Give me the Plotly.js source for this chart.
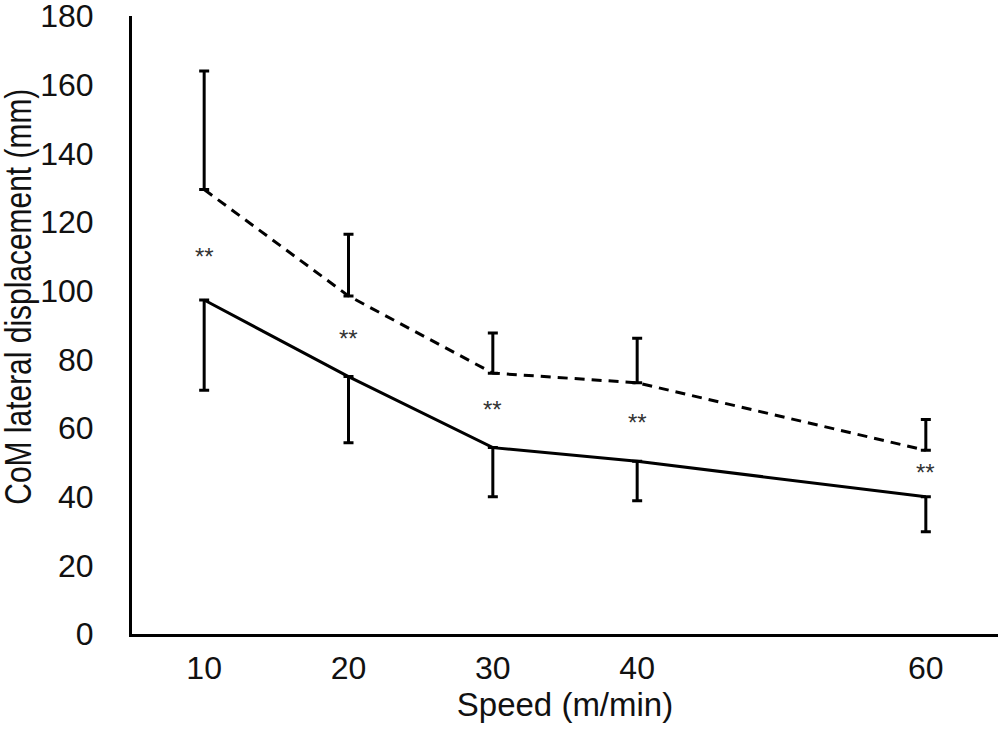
<!DOCTYPE html>
<html>
<head>
<meta charset="utf-8">
<script src="https://cdn.plot.ly/plotly-3.0.1.min.js"></script>
<style>
  html, body { margin: 0; padding: 0; background: #fff; }
  #chart { width: 1000px; height: 729px; }
</style>
</head>
<body>
<div id="chart"></div>
<script>
// speeds (m/min)
const speeds = [10, 20, 30, 40, 60];

// dashed series: mean and upward SD
const dashedMean = [129.5, 98.5, 76, 73.2, 53.5];
const dashedSD = [34.5, 18, 11.7, 13, 9];

// solid series: mean and downward SD
const solidMean = [97.3, 75, 54.3, 50.3, 40];
const solidSD = [26.3, 19.3, 14.3, 11.5, 10.2];

// height of the "**" marks
const sigY = [110, 86, 65.5, 61.5, 47];
const sigText = ["**", "**", "**", "**", "**"];

// y ticks
const yTicks = [0, 20, 40, 60, 80, 100, 120, 140, 160, 180];

const yTitle = 'CoM lateral displacement (mm)';

const zeros = speeds.map(() => 0);
const FONT = 'Liberation Sans, Arial, Helvetica, sans-serif';

const dashed = {
  x: speeds, y: dashedMean, type: 'scatter', mode: 'lines',
  line: {color: '#000', width: 3, dash: '10px,7px'},
  error_y: {type: 'data', symmetric: false, array: dashedSD, arrayminus: zeros,
            color: '#000', thickness: 3, width: 5},
  hoverinfo: 'skip'
};

const solid = {
  x: speeds, y: solidMean, type: 'scatter', mode: 'lines',
  line: {color: '#000', width: 3},
  error_y: {type: 'data', symmetric: false, array: zeros, arrayminus: solidSD,
            color: '#000', thickness: 3, width: 5},
  hoverinfo: 'skip'
};

let annotations = speeds.map((s, i) => ({
  x: s, y: sigY[i], text: sigText[i], showarrow: false,
  font: {family: FONT, size: 24, color: '#333'}
}));

// y title as a rotated annotation (it sits a bit above the axis middle)
annotations.push({
  xref: 'paper', yref: 'paper', x: -0.131, y: 0.545,
  xanchor: 'center', yanchor: 'middle', textangle: -90,
  text: yTitle, showarrow: false,
  font: {family: FONT, size: 36, color: '#111'}
});

const layout = {
  width: 1000, height: 729,
  margin: {l: 132, r: 2, t: 16, b: 95},
  paper_bgcolor: '#fff', plot_bgcolor: '#fff',
  showlegend: false,
  font: {family: FONT, color: '#111', size: 32},
  xaxis: {
    range: [5, 65], tickvals: speeds, ticktext: speeds.map(String),
    showgrid: false, zeroline: false, showline: true, linecolor: '#000', linewidth: 3,
    ticks: '', ticklabelstandoff: 4,
    title: {text: 'Speed (m/min)', font: {size: 33}, standoff: 6}
  },
  yaxis: {
    range: [0, 180.05], tickvals: yTicks, ticktext: yTicks.map(String),
    showgrid: false, zeroline: false, showline: true, linecolor: '#000', linewidth: 3,
    ticks: '', ticklabelstandoff: 29, ticklabeloverflow: 'allow'
  },
  annotations: annotations
};

Plotly.newPlot('chart', [dashed, solid], layout, {staticPlot: true, displayModeBar: false})
  .then(() => {
    // the original y title is set in a condensed face: squeeze it to its length
    document.querySelectorAll('.annotation-text').forEach(t => {
      if (t.textContent === yTitle) {
        t.setAttribute('textLength', 416);
        t.setAttribute('lengthAdjust', 'spacingAndGlyphs');
      }
    });
  });
</script>
</body>
</html>
